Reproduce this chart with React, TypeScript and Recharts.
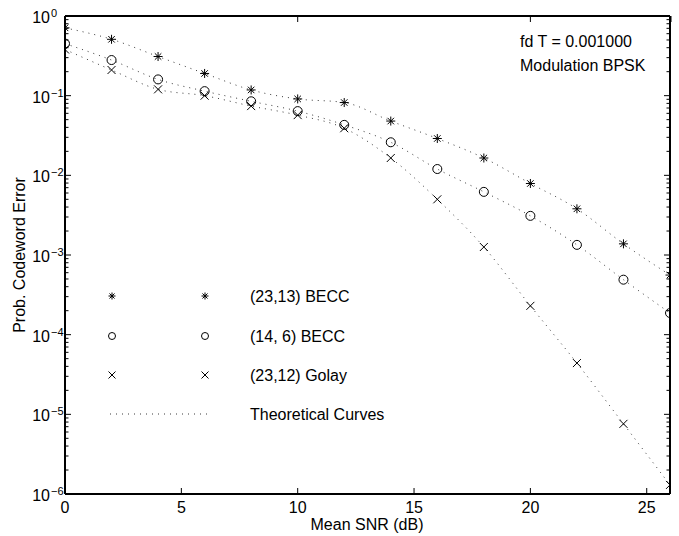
import React from 'react';
import { LineChart, Line, XAxis, YAxis } from 'recharts';

// Mean SNR (dB)
const snr = [0, 2, 4, 6, 8, 10, 12, 14, 16, 18, 20, 22, 24, 26];

// Prob. codeword error
const becc2313 = [0.71, 0.51, 0.31, 0.19, 0.118, 0.091, 0.082, 0.048, 0.029, 0.0165, 0.0079, 0.0038, 0.00138, 0.00056];
const becc146 = [0.45, 0.28, 0.16, 0.114, 0.085, 0.064, 0.043, 0.026, 0.012, 0.0062, 0.0031, 0.00134, 0.00049, 0.000187];
const golay23 = [0.38, 0.21, 0.12, 0.1, 0.074, 0.057, 0.039, 0.0165, 0.005, 0.00126, 0.00023, 0.000044, 0.0000076, 0.0000013];

const xTicks = [0, 5, 10, 15, 20, 25];
const decades = [-6, -5, -4, -3, -2, -1, 0];
const seriesNames = ['(23,13) BECC', '(14, 6) BECC', '(23,12) Golay', 'Theoretical Curves'];
const notes = ['fd T = 0.001000', 'Modulation BPSK'];

// log ticks: decades + minor 2..9
const yTicks: number[] = [];
decades.forEach(d => {
  if (d === 0) {
    yTicks.push(1);
    return;
  }
  for (let m = 1; m <= 9; m++) yTicks.push(m * Math.pow(10, d));
});

const data = snr.map((x, i) => ({
  snr: x,
  a: becc2313[i],
  b: becc146[i],
  c: golay23[i],
}));

const FONT = '"Liberation Sans", Arial, Helvetica, sans-serif';
const DOT_STROKE = '#3a3a3a';

const isDecade = (v: number) => Math.abs(Math.log10(v) - Math.round(Math.log10(v))) < 1e-9;

const Star = ({ cx, cy, r }: { cx: number; cy: number; r: number }) => {
  const d = r * 0.72;
  return (
    <g stroke="#000" strokeWidth={1}>
      <line x1={cx - r} y1={cy} x2={cx + r} y2={cy} />
      <line x1={cx} y1={cy - r} x2={cx} y2={cy + r} />
      <line x1={cx - d} y1={cy - d} x2={cx + d} y2={cy + d} />
      <line x1={cx - d} y1={cy + d} x2={cx + d} y2={cy - d} />
    </g>
  );
};

const Ring = ({ cx, cy, r }: { cx: number; cy: number; r: number }) => (
  <circle cx={cx} cy={cy} r={r} fill="none" stroke="#000" strokeWidth={1} />
);

const Cross = ({ cx, cy, r }: { cx: number; cy: number; r: number }) => (
  <g stroke="#000" strokeWidth={1}>
    <line x1={cx - r} y1={cy - r} x2={cx + r} y2={cy + r} />
    <line x1={cx - r} y1={cy + r} x2={cx + r} y2={cy - r} />
  </g>
);

const starDot = (p: any) => <Star key={`s${p.index}`} cx={p.cx} cy={p.cy} r={4.5} />;
const ringDot = (p: any) => <Ring key={`o${p.index}`} cx={p.cx} cy={p.cy} r={4.5} />;
const crossDot = (p: any) => <Cross key={`x${p.index}`} cx={p.cx} cy={p.cy} r={4} />;

const LeftTick = ({ x, y, payload }: any) => {
  const v = payload.value;
  const major = isDecade(v);
  return (
    <g>
      <line x1={x} y1={y} x2={x + (major ? 6 : 3.5)} y2={y} stroke="#000" strokeWidth={1} />
      {major && (
        <g fontFamily={FONT} fill="#000">
          <text x={x - 15} y={y + 7} fontSize={16} textAnchor="end">10</text>
          <text x={x - 14} y={y + 1} fontSize={11} textAnchor="start">
            {Math.round(Math.log10(v)) === 0 ? '0' : '\u2212' + Math.abs(Math.round(Math.log10(v)))}
          </text>
        </g>
      )}
    </g>
  );
};

const RightTick = ({ x, y, payload }: any) => {
  const major = isDecade(payload.value);
  return <line x1={x} y1={y} x2={x - (major ? 6 : 3.5)} y2={y} stroke="#000" strokeWidth={1} />;
};

const BottomTick = ({ x, y, payload }: any) => (
  <g>
    <line x1={x} y1={y} x2={x} y2={y - 6} stroke="#000" strokeWidth={1} />
    <text x={x} y={y + 19} fontSize={16} fontFamily={FONT} textAnchor="middle" fill="#000">
      {payload.value}
    </text>
  </g>
);

const TopTick = ({ x, y }: any) => (
  <line x1={x} y1={y} x2={x} y2={y + 6} stroke="#000" strokeWidth={1} />
);

const Overlay = () => {
  const rows = [296, 336, 375, 414];
  const markers = [Star, Ring, Cross];
  return (
    <svg
      width={679}
      height={536}
      style={{ position: 'absolute', left: 0, top: 0, pointerEvents: 'none' }}
      fontFamily={FONT}
    >
      {notes.map((t, i) => (
        <text key={t} x={520} y={47 + i * 24} fontSize={16} fill="#000">{t}</text>
      ))}
      {markers.map((M, i) => (
        <g key={i}>
          <M cx={112} cy={rows[i]} r={i === 1 ? 3.5 : 3.5} />
          <M cx={205} cy={rows[i]} r={i === 1 ? 3.5 : 3.5} />
        </g>
      ))}
      <line x1={110} y1={rows[3]} x2={207} y2={rows[3]} stroke={DOT_STROKE} strokeDasharray="1 5" />
      {seriesNames.map((s, i) => (
        <text key={s} x={250} y={rows[i] + 6} fontSize={16} fill="#000">{s}</text>
      ))}
      <text x={367} y={530} fontSize={16} textAnchor="middle" fill="#000">Mean SNR (dB)</text>
      <text transform="translate(25,255) rotate(-90)" x={0} y={0} fontSize={16} textAnchor="middle" fill="#000">
        Prob. Codeword Error
      </text>
    </svg>
  );
};

export default function App() {
  return (
    <div style={{ position: 'absolute', left: 0, top: 0, width: 679, height: 536, background: '#fff' }}>
      <LineChart width={679} height={536} data={data} margin={{ top: 0, right: 0, bottom: 0, left: 0 }}>
        <XAxis
          dataKey="snr"
          type="number"
          domain={[0, 26]}
          ticks={xTicks}
          allowDataOverflow
          height={42}
          tickSize={0}
          tickMargin={0}
          tickLine={false}
          axisLine={{ stroke: '#000', strokeWidth: 2 }}
          tick={<BottomTick />}
        />
        <XAxis
          xAxisId="top"
          orientation="top"
          type="number"
          domain={[0, 26]}
          ticks={xTicks}
          allowDataOverflow
          height={16}
          tickSize={0}
          tickMargin={0}
          tickLine={false}
          axisLine={{ stroke: '#000', strokeWidth: 2 }}
          tick={<TopTick />}
        />
        <YAxis
          scale="log"
          type="number"
          domain={[1e-6, 1]}
          ticks={yTicks}
          allowDataOverflow
          width={65}
          tickSize={0}
          tickMargin={0}
          tickLine={false}
          interval={0}
          axisLine={{ stroke: '#000', strokeWidth: 2 }}
          tick={<LeftTick />}
        />
        <YAxis
          yAxisId="right"
          orientation="right"
          scale="log"
          type="number"
          domain={[1e-6, 1]}
          ticks={yTicks}
          allowDataOverflow
          width={9}
          tickSize={0}
          tickMargin={0}
          tickLine={false}
          interval={0}
          axisLine={{ stroke: '#000', strokeWidth: 2 }}
          tick={<RightTick />}
        />
        <Line dataKey="a" type="monotone" stroke={DOT_STROKE} strokeDasharray="1 5" strokeWidth={1} dot={starDot} activeDot={false} isAnimationActive={false} />
        <Line dataKey="b" type="monotone" stroke={DOT_STROKE} strokeDasharray="1 5" strokeWidth={1} dot={ringDot} activeDot={false} isAnimationActive={false} />
        <Line dataKey="c" type="monotone" stroke={DOT_STROKE} strokeDasharray="1 5" strokeWidth={1} dot={crossDot} activeDot={false} isAnimationActive={false} />
      </LineChart>
      <Overlay />
    </div>
  );
}
